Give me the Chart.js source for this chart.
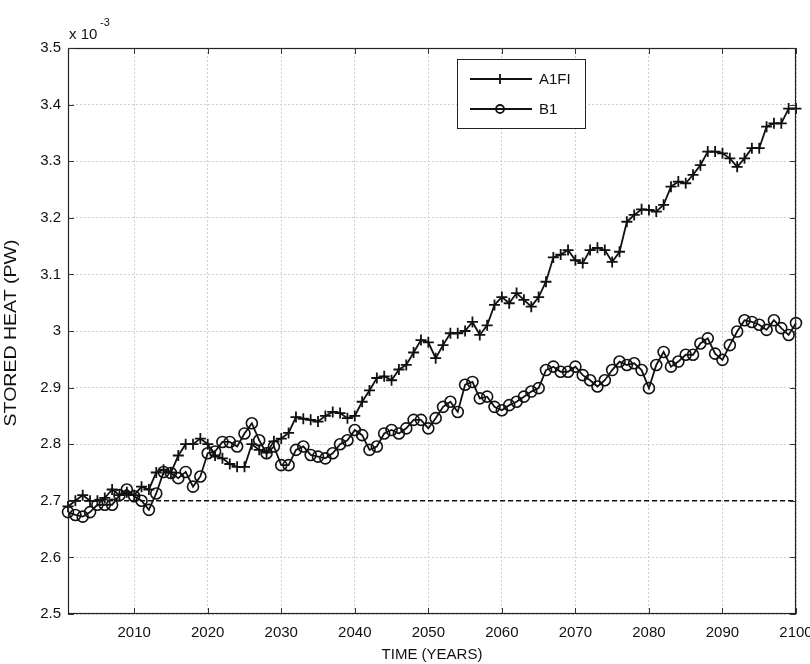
<!DOCTYPE html>
<html>
<head>
<meta charset="utf-8">
<script src="https://cdn.jsdelivr.net/npm/chart.js@4.4.1/dist/chart.umd.min.js"></script>
<style>
  html, body { margin: 0; padding: 0; background: #ffffff; }
  #wrap { width: 810px; height: 664px; position: relative; }
</style>
</head>
<body>
<div id="wrap"><canvas id="chart"></canvas></div>
<script>
// Annual time axis
const years = [
  2001, 2002, 2003, 2004, 2005, 2006, 2007, 2008, 2009, 2010,
  2011, 2012, 2013, 2014, 2015, 2016, 2017, 2018, 2019, 2020,
  2021, 2022, 2023, 2024, 2025, 2026, 2027, 2028, 2029, 2030,
  2031, 2032, 2033, 2034, 2035, 2036, 2037, 2038, 2039, 2040,
  2041, 2042, 2043, 2044, 2045, 2046, 2047, 2048, 2049, 2050,
  2051, 2052, 2053, 2054, 2055, 2056, 2057, 2058, 2059, 2060,
  2061, 2062, 2063, 2064, 2065, 2066, 2067, 2068, 2069, 2070,
  2071, 2072, 2073, 2074, 2075, 2076, 2077, 2078, 2079, 2080,
  2081, 2082, 2083, 2084, 2085, 2086, 2087, 2088, 2089, 2090,
  2091, 2092, 2093, 2094, 2095, 2096, 2097, 2098, 2099, 2100
];

// Stored heat, A1FI scenario (x 10^-3 PW)
const a1fi = [
  2.690, 2.700, 2.710, 2.700, 2.700, 2.705, 2.720, 2.710, 2.715, 2.710,
  2.725, 2.720, 2.750, 2.755, 2.750, 2.780, 2.800, 2.800, 2.810, 2.800,
  2.780, 2.775, 2.765, 2.760, 2.760, 2.800, 2.790, 2.785, 2.805, 2.810,
  2.820, 2.848, 2.845, 2.843, 2.840, 2.850, 2.857, 2.855, 2.846, 2.850,
  2.875, 2.895, 2.917, 2.920, 2.913, 2.932, 2.940, 2.962, 2.984, 2.980,
  2.952, 2.975, 2.996, 2.996, 3.000, 3.016, 2.993, 3.010, 3.046, 3.060,
  3.049, 3.067, 3.055, 3.043, 3.060, 3.087, 3.130, 3.135, 3.143, 3.125,
  3.120, 3.143, 3.147, 3.143, 3.122, 3.140, 3.193, 3.205, 3.215, 3.214,
  3.211, 3.223, 3.255, 3.264, 3.261, 3.276, 3.293, 3.317, 3.317, 3.314,
  3.305, 3.290, 3.305, 3.323, 3.323, 3.361, 3.367, 3.367, 3.393, 3.393
];

// Stored heat, B1 scenario (x 10^-3 PW)
const b1 = [
  2.680, 2.675, 2.672, 2.680, 2.693, 2.693, 2.693, 2.710, 2.720, 2.708,
  2.700, 2.684, 2.713, 2.751, 2.749, 2.740, 2.751, 2.725, 2.743, 2.784,
  2.787, 2.804, 2.804, 2.796, 2.819, 2.837, 2.807, 2.784, 2.796, 2.763,
  2.763, 2.790, 2.796, 2.781, 2.778, 2.775, 2.784, 2.800, 2.807, 2.825,
  2.816, 2.790, 2.796, 2.819, 2.825, 2.819, 2.828, 2.843, 2.843, 2.828,
  2.846, 2.866, 2.875, 2.857, 2.905, 2.910, 2.881, 2.884, 2.866, 2.860,
  2.869, 2.875, 2.884, 2.893, 2.899, 2.931, 2.937, 2.928, 2.928, 2.937,
  2.922, 2.913, 2.902, 2.913, 2.931, 2.946, 2.940, 2.943, 2.931, 2.899,
  2.940, 2.963, 2.937, 2.946, 2.958, 2.958, 2.978, 2.987, 2.960, 2.949,
  2.975, 2.999, 3.019, 3.016, 3.011, 3.002, 3.019, 3.005, 2.993, 3.014
];

// Reference level and axis ticks
const baselineYears = [2001, 2100];
const baselineValue = 2.7;
const xTicks = [2010, 2020, 2030, 2040, 2050, 2060, 2070, 2080, 2090, 2100];
const seriesNames = ['A1FI', 'B1'];
const yTitle = 'STORED HEAT (PW)';

const FONT = '"Liberation Sans", Arial, Helvetica, sans-serif';
const INK = '#111111';

// Box, inward ticks, exponent label, y title and legend drawn on top of the plot
const framePlugin = {
  id: 'frame',
  afterDatasetsDraw(chart) {
    const ctx = chart.ctx;
    const a = chart.chartArea;
    const xs = chart.scales.x, ys = chart.scales.y;
    ctx.save();
    ctx.strokeStyle = '#222';
    ctx.lineWidth = 1.2;
    ctx.strokeRect(a.left + 0.5, a.top + 0.5, a.right - a.left - 1, a.bottom - a.top - 1);

    const tl = 6;
    ctx.lineWidth = 1;
    ctx.strokeStyle = '#333';
    xs.ticks.forEach(t => {
      const px = Math.round(xs.getPixelForValue(t.value)) + 0.5;
      ctx.beginPath();
      ctx.moveTo(px, a.bottom); ctx.lineTo(px, a.bottom - tl);
      ctx.moveTo(px, a.top); ctx.lineTo(px, a.top + tl);
      ctx.stroke();
    });
    ys.ticks.forEach(t => {
      const py = Math.round(ys.getPixelForValue(t.value)) + 0.5;
      ctx.beginPath();
      ctx.moveTo(a.left, py); ctx.lineTo(a.left + tl, py);
      ctx.moveTo(a.right, py); ctx.lineTo(a.right - tl, py);
      ctx.stroke();
    });

    // exponent label above the y axis
    ctx.fillStyle = INK;
    ctx.font = '15px ' + FONT;
    ctx.textAlign = 'left';
    ctx.textBaseline = 'alphabetic';
    ctx.fillText('x 10', a.left + 1, a.top - 9);
    ctx.font = '11px ' + FONT;
    ctx.fillText('-3', a.left + 32, a.top - 22);

    // rotated y-axis title, tall lettering
    ctx.save();
    ctx.translate(12, (a.top + a.bottom) / 2 + 2);
    ctx.rotate(-Math.PI / 2);
    ctx.scale(1.22, 1);
    ctx.font = '16px ' + FONT;
    ctx.textAlign = 'center';
    ctx.textBaseline = 'middle';
    ctx.fillText(yTitle, 0, 0);
    ctx.restore();

    // legend
    const lx = 457, ly = 59, lw = 128, lh = 69;
    ctx.fillStyle = '#ffffff';
    ctx.fillRect(lx, ly, lw, lh);
    ctx.strokeStyle = '#222';
    ctx.lineWidth = 1;
    ctx.strokeRect(lx + 0.5, ly + 0.5, lw, lh);
    const rows = [ly + 20, ly + 50];
    ctx.lineWidth = 1.8;
    ctx.strokeStyle = INK;
    rows.forEach((ry, i) => {
      ctx.beginPath();
      ctx.moveTo(lx + 13, ry); ctx.lineTo(lx + 75, ry);
      ctx.stroke();
      const mx = lx + 43;
      ctx.beginPath();
      if (i === 0) {
        ctx.moveTo(mx, ry - 5); ctx.lineTo(mx, ry + 5);
        ctx.moveTo(mx - 5, ry); ctx.lineTo(mx + 5, ry);
      } else {
        ctx.arc(mx, ry, 4, 0, Math.PI * 2);
      }
      ctx.stroke();
      ctx.fillStyle = INK;
      ctx.font = '15px ' + FONT;
      ctx.textAlign = 'left';
      ctx.textBaseline = 'middle';
      ctx.fillText(seriesNames[i], lx + 82, ry + 1);
    });
    ctx.restore();
  }
};

const toPoints = (xsArr, ysArr) => xsArr.map((x, i) => ({ x: x, y: ysArr[i] }));

new Chart(document.getElementById('chart'), {
  type: 'line',
  data: {
    datasets: [
      {
        label: 'level',
        data: toPoints(baselineYears, [baselineValue, baselineValue]),
        borderColor: INK,
        borderWidth: 1.6,
        borderDash: [5, 3],
        pointRadius: 0,
        fill: false,
        order: 3
      },
      {
        label: seriesNames[1],
        data: toPoints(years, b1),
        borderColor: INK,
        borderWidth: 1.8,
        pointStyle: 'circle',
        pointRadius: 5.5,
        pointBorderWidth: 1.6,
        pointBackgroundColor: 'rgba(0,0,0,0)',
        pointBorderColor: INK,
        fill: false,
        tension: 0,
        clip: 8,
        order: 2
      },
      {
        label: seriesNames[0],
        data: toPoints(years, a1fi),
        borderColor: INK,
        borderWidth: 1.8,
        pointStyle: 'cross',
        pointRadius: 5.5,
        pointBorderWidth: 1.8,
        pointBorderColor: INK,
        fill: false,
        tension: 0,
        clip: 8,
        order: 1
      }
    ]
  },
  options: {
    responsive: true,
    maintainAspectRatio: false,
    animation: false,
    events: [],
    layout: { padding: { left: 0, top: 48, right: 0, bottom: 0 } },
    plugins: {
      legend: { display: false },
      tooltip: { enabled: false }
    },
    scales: {
      x: {
        type: 'linear',
        min: 2001,
        max: 2100,
        afterBuildTicks: s => { s.ticks = xTicks.map(v => ({ value: v })); },
        afterFit: s => { s.height = 50; s.paddingRight = 14; },
        grid: { color: '#cfcfcf', lineWidth: 1, drawTicks: false },
        border: { display: false, dash: [2, 2] },
        ticks: {
          padding: 10,
          color: INK,
          font: { family: FONT, size: 15 },
          maxRotation: 0,
          callback: v => String(v)
        },
        title: {
          display: true,
          text: 'TIME (YEARS)',
          color: INK,
          font: { family: FONT, size: 15 },
          padding: { top: 0, bottom: 0 }
        }
      },
      y: {
        min: 2.5,
        max: 3.5,
        afterFit: s => { s.width = 68; },
        grid: { color: '#cfcfcf', lineWidth: 1, drawTicks: false },
        border: { display: false, dash: [2, 2] },
        ticks: {
          stepSize: 0.1,
          padding: 7,
          color: INK,
          font: { family: FONT, size: 15 },
          callback: v => String(Number(v.toFixed(1)))
        },
        title: { display: false }
      }
    }
  },
  plugins: [framePlugin]
});
</script>
</body>
</html>
